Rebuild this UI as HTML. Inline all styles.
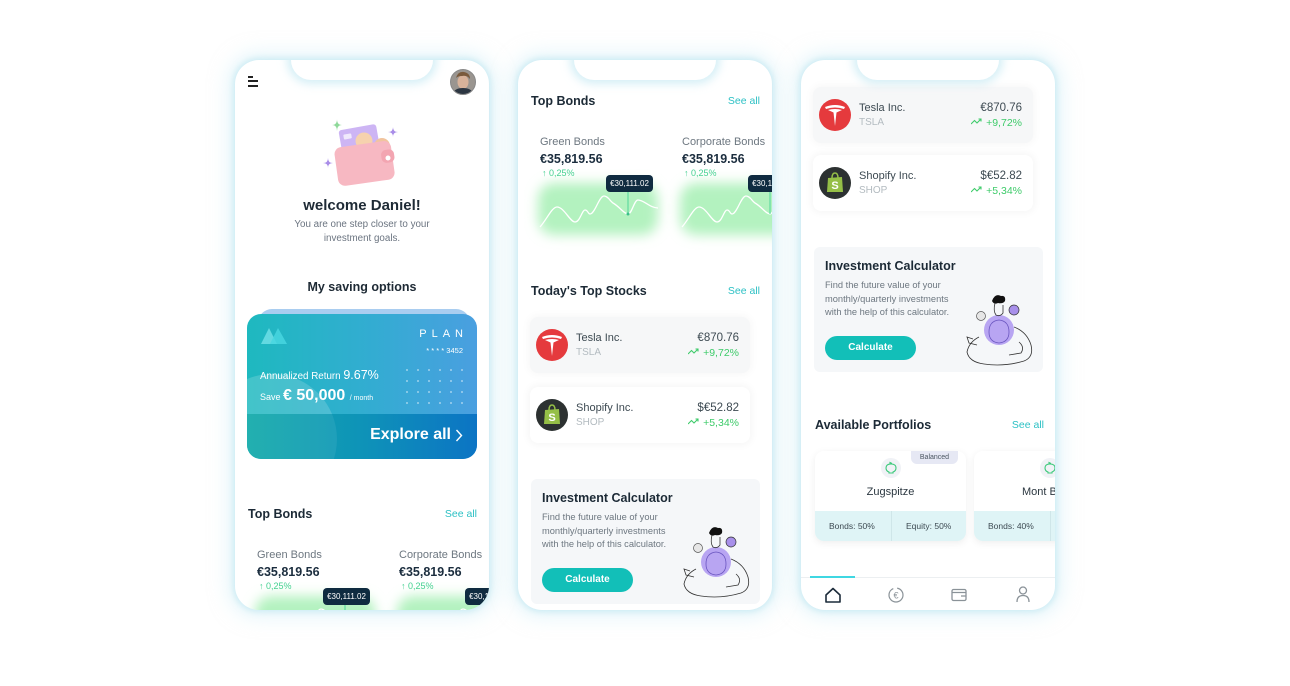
<!DOCTYPE html>
<html><head><meta charset="utf-8">
<style>
*{margin:0;padding:0;box-sizing:border-box}
body{width:1290px;height:686px;background:#fff;position:relative;overflow:hidden;font-family:"Liberation Sans",sans-serif}
.ph{position:absolute;top:60px;width:254px;height:550px;border-radius:24px;background:#fff;box-shadow:0 0 6px 2px rgba(180,226,238,.55),0 0 18px 8px rgba(210,240,247,.5);overflow:hidden}
.notch{position:absolute;top:-4px;left:56px;width:142px;height:24px;background:#fff;border-radius:0 0 20px 20px;box-shadow:0 0 9px 4px rgba(185,228,240,.6);z-index:5}
.a{position:absolute;white-space:nowrap}
.h{font-size:12.5px;font-weight:bold;color:#1c2a36;line-height:16px}
.see{font-size:10.5px;color:#2cc0c4;line-height:14px}
.bond{position:absolute;width:130px;height:110px}
.bt{position:absolute;left:0;top:0;font-size:11px;line-height:16px;color:#6d7780;white-space:nowrap}
.bp{position:absolute;left:0;top:17px;font-size:12.5px;line-height:16px;font-weight:bold;color:#1b2d3e;white-space:nowrap}
.bc{position:absolute;left:2px;top:33px;font-size:9px;line-height:12px;color:#3fcf8e;white-space:nowrap}
.bch{position:absolute;left:-16px;top:35px}
.tip{position:absolute;left:66px;top:41px;width:47px;height:17px;background:#0f2b40;border-radius:4px;color:#fff;font-size:8px;line-height:17px;text-align:center;white-space:nowrap}
.st{position:absolute;left:12px;width:220px;height:56px;border-radius:8px}
.st.g{background:#f6f7f8;box-shadow:0 0 8px 2px rgba(0,0,0,.03)}
.st.w{background:#fff;box-shadow:0 0 8px 2px rgba(0,0,0,.04)}
.st svg.lg{position:absolute;left:6px;top:12px}
.sn{position:absolute;left:46px;top:14px;font-size:11px;line-height:14px;color:#3d4a52}
.sk{position:absolute;left:46px;top:29px;font-size:10px;line-height:14px;color:#b3bbc0}
.sp{position:absolute;right:11px;top:14px;font-size:11.5px;line-height:14px;color:#3d4a52}
.sc{position:absolute;right:11px;top:29px;font-size:10.5px;line-height:14px;color:#3ecb6a}
.calc{position:absolute;left:13px;width:229px;height:125px;background:#f5f7f9;border-radius:6px}
.ct{position:absolute;left:11px;top:12px;font-size:12.5px;font-weight:bold;color:#1c2a36;white-space:nowrap}
.cx{position:absolute;left:11px;top:32px;font-size:9.3px;line-height:13.5px;color:#6d7780;white-space:nowrap}
.cb{position:absolute;left:11px;top:89px;width:91px;height:24px;border-radius:12px;background:#12bfb8;color:#fff;font-size:10px;font-weight:bold;text-align:center;line-height:24px}
.pc{position:absolute;top:391px;width:151px;height:90px;background:#fff;border-radius:9px;box-shadow:0 2px 8px rgba(0,0,0,.07);overflow:hidden}
.pb{position:absolute;left:0;bottom:0;width:100%;height:30px;background:#dff4f6}
.pb i{position:absolute;left:76px;top:0;width:1px;height:30px;background:#cfe6e9}
.pb span{position:absolute;top:0;line-height:30px;font-size:8.5px;color:#3d4a52;white-space:nowrap;font-style:normal}
.pn{position:absolute;left:0;width:100%;top:35px;text-align:center;font-size:11px;color:#2b3740}
.pig{position:absolute;left:66px;top:7px}
</style></head><body>

<svg width="0" height="0" style="position:absolute"><defs><filter id="bl1" x="-30%" y="-40%" width="160%" height="180%"><feGaussianBlur stdDeviation="6"/></filter></defs></svg>

<!-- PHONE 1 -->
<div class="ph" style="left:235px">
 <div class="notch"></div>
 <div class="a" style="left:13px;top:16px;width:5px;height:2px;background:#222"></div>
 <div class="a" style="left:13px;top:20px;width:10px;height:2px;background:#222"></div>
 <div class="a" style="left:13px;top:25px;width:10px;height:2px;background:#222"></div>
 <svg class="a" style="left:215px;top:9px" width="26" height="26" viewBox="0 0 26 26">
  <defs><clipPath id="av"><circle cx="13" cy="13" r="12.5"/></clipPath></defs>
  <g clip-path="url(#av)">
   <rect width="26" height="26" fill="#9a9590"/>
   <ellipse cx="13" cy="13" rx="5.5" ry="7" fill="#d8b29a"/>
   <path d="M6,9 Q8,2 14,3 Q20,4 20,10 Q17,6 12,7 Q8,7 6,9Z" fill="#7a5a3c"/>
   <path d="M2,26 Q4,19 13,19 Q22,19 24,26Z" fill="#2c3642"/>
  </g>
  <circle cx="13" cy="13" r="12.5" fill="none" stroke="#888" stroke-width="1"/>
 </svg>
 <svg class="a" style="left:85px;top:55px" width="90" height="75" viewBox="0 0 90 75">
  <path d="M17,4 Q17,10 22,10 Q17,10 17,16 Q17,10 12,10 Q17,10 17,4Z" fill="#8fd99a"/>
  <path d="M73,12 Q73,17 78,17 Q73,17 73,22 Q73,17 68,17 Q73,17 73,12Z" fill="#a98de8"/>
  <path d="M8,43 Q8,48 13,48 Q8,48 8,53 Q8,48 3,48 Q8,48 8,43Z" fill="#a98de8"/>
  <rect x="20" y="12" width="38" height="22" rx="3" fill="#cdb5f4" transform="rotate(-10 39 23)"/>
  <rect x="24" y="17" width="8" height="5" rx="1" fill="#fff" opacity=".7" transform="rotate(-10 39 23)"/>
  <circle cx="44" cy="26" r="8.5" fill="#f6d2ae"/>
  <circle cx="62" cy="31" r="8" fill="#f1c49e"/>
  <rect x="16" y="29" width="57" height="39" rx="7" fill="#f7b8c2" transform="rotate(-8 44 48)"/>
  <rect x="62" y="38" width="13" height="13" rx="5" fill="#f3a5b1" transform="rotate(-8 44 48)"/>
  <circle cx="68" cy="43" r="2.5" fill="#fff"/>
 </svg>
 <div class="a" style="left:0;width:254px;text-align:center;top:137px;font-size:15px;font-weight:bold;color:#1e2a35">welcome Daniel!</div>
 <div class="a" style="left:0;width:254px;text-align:center;top:158px;font-size:9.8px;line-height:14px;color:#6b7480">You are one step closer to your<br>investment goals.</div>
 <div class="a" style="left:0;width:254px;text-align:center;top:220px;font-size:12.5px;font-weight:bold;color:#1e2a35">My saving options</div>
 <div class="a" style="left:23px;top:249px;width:212px;height:40px;border-radius:14px;background:#a9cdf0"></div>
 <div class="a" style="left:12px;top:254px;width:230px;height:145px;border-radius:14px;overflow:hidden;background:linear-gradient(90deg,#1eb9bf 0%,#33acd2 55%,#4a9fe0 100%)">
  <div class="a" style="left:-40px;top:60px;width:130px;height:130px;border-radius:50%;background:rgba(255,255,255,.1)"></div>
  <svg class="a" style="left:14px;top:12px" width="28" height="18" viewBox="0 0 28 18"><path d="M0,18 L8,2 L16,18Z" fill="#6fdfe6" opacity=".85"/><path d="M9,18 L17,2 L26,18Z" fill="#48d6e0" opacity=".85"/></svg>
  <div class="a" style="right:14px;top:14px;font-size:11px;letter-spacing:5px;color:#fff;margin-right:-5px">PLAN</div>
  <div class="a" style="right:14px;top:32px;font-size:7.5px;color:#fff">* * * * 3452</div>
  <div class="a" style="left:13px;top:54px;color:#fff;font-size:9.8px">Annualized Return <span style="font-size:12.5px">9.67%</span></div>
  <div class="a" style="left:13px;top:73px;color:#fff;font-size:9px">Save <span style="font-size:16px;font-weight:bold">€ 50,000</span> <span style="font-size:7px">&nbsp;/ month</span></div>
  <svg class="a" style="left:158px;top:54px" width="60" height="38">
   <g fill="#fff" opacity=".5">
    <circle cx="2" cy="2" r="1"/><circle cx="13" cy="2" r="1"/><circle cx="24" cy="2" r="1"/><circle cx="35" cy="2" r="1"/><circle cx="46" cy="2" r="1"/><circle cx="57" cy="2" r="1"/>
    <circle cx="2" cy="13" r="1"/><circle cx="13" cy="13" r="1"/><circle cx="24" cy="13" r="1"/><circle cx="35" cy="13" r="1"/><circle cx="46" cy="13" r="1"/><circle cx="57" cy="13" r="1"/>
    <circle cx="2" cy="24" r="1"/><circle cx="13" cy="24" r="1"/><circle cx="24" cy="24" r="1"/><circle cx="35" cy="24" r="1"/><circle cx="46" cy="24" r="1"/><circle cx="57" cy="24" r="1"/>
    <circle cx="2" cy="35" r="1"/><circle cx="13" cy="35" r="1"/><circle cx="24" cy="35" r="1"/><circle cx="35" cy="35" r="1"/><circle cx="46" cy="35" r="1"/><circle cx="57" cy="35" r="1"/>
   </g>
  </svg>
  <div class="a" style="left:0;top:100px;width:230px;height:45px;background:linear-gradient(90deg,#12aaaa 0%,#0e93b8 50%,#0c74c4 100%)"></div>
  <div class="a" style="left:-40px;top:60px;width:130px;height:130px;border-radius:50%;background:rgba(255,255,255,.07)"></div>
  <div class="a" style="right:26px;top:112px;color:#fff;font-size:16px;font-weight:bold">Explore all</div>
  <svg class="a" style="left:208px;top:115px" width="8" height="13"><path d="M1.5,1 L6.5,6.5 L1.5,12" stroke="#fff" stroke-width="1.4" fill="none"/></svg>
 </div>
 <div class="a h" style="left:13px;top:446px">Top Bonds</div>
 <div class="a see" style="right:12px;top:447px">See all</div>
 <div class="bond" style="left:22px;top:487px">
  <div class="bt">Green Bonds</div><div class="bp">€35,819.56</div><div class="bc">↑ 0,25%</div>
  <svg class="bch" width="150" height="82" viewBox="0 0 150 82"><rect x="14" y="14" width="120" height="52" rx="16" fill="#b3f2bf" filter="url(#bl1)"/><g transform="translate(8,8)"><path d="M8,50 C15,42 20,30 25,30 C32,30 38,45 43,45 C48,45 50,33 53,33 C56,33 56,37 58,37 C63,37 67,19 72,19 C76,19 78,24 81,26 C88,30 92,37 96,37 C100,37 102,23 106,23 C112,23 118,31 126,31" stroke="#fff" stroke-width="1.3" fill="none"/><line x1="96" y1="15" x2="96" y2="37" stroke="#4fd69a" stroke-width="1"/><circle cx="96" cy="37" r="1.5" fill="#3cbf8a"/></g></svg>
  <div class="tip">€30,111.02</div>
 </div>
 <div class="bond" style="left:164px;top:487px">
  <div class="bt">Corporate Bonds</div><div class="bp">€35,819.56</div><div class="bc">↑ 0,25%</div>
  <svg class="bch" width="150" height="82" viewBox="0 0 150 82"><rect x="14" y="14" width="120" height="52" rx="16" fill="#b3f2bf" filter="url(#bl1)"/><g transform="translate(8,8)"><path d="M8,50 C15,42 20,30 25,30 C32,30 38,45 43,45 C48,45 50,33 53,33 C56,33 56,37 58,37 C63,37 67,19 72,19 C76,19 78,24 81,26 C88,30 92,37 96,37 C100,37 102,23 106,23 C112,23 118,31 126,31" stroke="#fff" stroke-width="1.3" fill="none"/><line x1="96" y1="15" x2="96" y2="37" stroke="#4fd69a" stroke-width="1"/></g></svg>
  <div class="tip">€30,111.02</div>
 </div>
</div>

<!-- PHONE 2 -->
<div class="ph" style="left:518px">
 <div class="notch"></div>
 <div class="a h" style="left:13px;top:33px">Top Bonds</div>
 <div class="a see" style="right:12px;top:34px">See all</div>
 <div class="bond" style="left:22px;top:74px">
  <div class="bt">Green Bonds</div><div class="bp">€35,819.56</div><div class="bc">↑ 0,25%</div>
  <svg class="bch" width="150" height="82" viewBox="0 0 150 82"><rect x="14" y="14" width="120" height="52" rx="16" fill="#b3f2bf" filter="url(#bl1)"/><g transform="translate(8,8)"><path d="M8,50 C15,42 20,30 25,30 C32,30 38,45 43,45 C48,45 50,33 53,33 C56,33 56,37 58,37 C63,37 67,19 72,19 C76,19 78,24 81,26 C88,30 92,37 96,37 C100,37 102,23 106,23 C112,23 118,31 126,31" stroke="#fff" stroke-width="1.3" fill="none"/><line x1="96" y1="15" x2="96" y2="37" stroke="#4fd69a" stroke-width="1"/><circle cx="96" cy="37" r="1.5" fill="#3cbf8a"/></g></svg>
  <div class="tip">€30,111.02</div>
 </div>
 <div class="bond" style="left:164px;top:74px">
  <div class="bt">Corporate Bonds</div><div class="bp">€35,819.56</div><div class="bc">↑ 0,25%</div>
  <svg class="bch" width="150" height="82" viewBox="0 0 150 82"><rect x="14" y="14" width="120" height="52" rx="16" fill="#b3f2bf" filter="url(#bl1)"/><g transform="translate(8,8)"><path d="M8,50 C15,42 20,30 25,30 C32,30 38,45 43,45 C48,45 50,33 53,33 C56,33 56,37 58,37 C63,37 67,19 72,19 C76,19 78,24 81,26 C88,30 92,37 96,37 C100,37 102,23 106,23 C112,23 118,31 126,31" stroke="#fff" stroke-width="1.3" fill="none"/><line x1="96" y1="15" x2="96" y2="37" stroke="#4fd69a" stroke-width="1"/></g></svg>
  <div class="tip">€30,111.02</div>
 </div>
 <div class="a h" style="left:13px;top:223px">Today's Top Stocks</div>
 <div class="a see" style="right:12px;top:224px">See all</div>

 <div class="st g" style="top:257px">
  <svg class="lg" width="32" height="32" viewBox="-16 -16 32 32"><circle r="16" fill="#e53a3d"/><path d="M-10,-8 Q0,-12 10,-8 L9,-6 Q0,-9 -9,-6Z" fill="#fff"/><path d="M-7,-5 Q0,-7 7,-5 L1.5,-2.5 L0,11 L-1.5,-2.5Z" fill="#fff"/></svg>
  <div class="sn">Tesla Inc.</div><div class="sk">TSLA</div>
  <div class="sp">€870.76</div>
  <div class="sc"><svg width="12" height="7" viewBox="0 0 12 7" style="vertical-align:1px"><path d="M0,6 L3.5,2.5 L6,5 L10,1 M7.5,1 H10 V3.5" stroke="#3ecb6a" stroke-width="1.1" fill="none"/></svg> +9,72%</div>
 </div>
 <div class="st w" style="top:327px">
  <svg class="lg" width="32" height="32" viewBox="-16 -16 32 32"><circle r="16" fill="#2c3131"/><path d="M-7,-5 L7,-6 L8,9 L-8,9Z" fill="#95bf47"/><path d="M-3,-5 Q-3,-10 0,-10 Q3,-10 3,-5" stroke="#95bf47" stroke-width="1.5" fill="none"/><text x="0" y="6" font-size="11" font-weight="bold" fill="#fff" text-anchor="middle" font-family="Liberation Sans">S</text></svg>
  <div class="sn">Shopify Inc.</div><div class="sk">SHOP</div>
  <div class="sp">$€52.82</div>
  <div class="sc"><svg width="12" height="7" viewBox="0 0 12 7" style="vertical-align:1px"><path d="M0,6 L3.5,2.5 L6,5 L10,1 M7.5,1 H10 V3.5" stroke="#3ecb6a" stroke-width="1.1" fill="none"/></svg> +5,34%</div>
 </div>

 <div class="calc" style="top:419px">
  <div class="ct">Investment Calculator</div>
  <div class="cx">Find the future value of your<br>monthly/quarterly investments<br>with the help of this calculator.</div>
  <div class="cb">Calculate</div>
  <svg class="a" style="left:145px;top:40px" width="80" height="80" viewBox="0 0 80 80">
   <circle cx="40" cy="43" r="15" fill="#b8a5f2"/>
   <path d="M30,45 Q30,34 40,33 Q50,34 50,45 Q50,55 40,56 Q30,55 30,45Z" fill="none" stroke="#6a55c0" stroke-width=".8"/>
   <path d="M33,14 Q36,6 42,9 Q47,8 46,14 Q44,17 39,16 Q35,18 33,14Z" fill="#111"/>
   <path d="M36,16 Q34,24 37,28 Q41,30 44,26 L44,18" fill="none" stroke="#333" stroke-width=".8"/>
   <circle cx="55" cy="23" r="5" fill="#a890ea" stroke="#333" stroke-width=".7"/>
   <circle cx="22" cy="29" r="4.5" fill="#e6e6e6" stroke="#555" stroke-width=".7"/>
   <path d="M20,50 Q10,55 8,65 Q10,75 25,77 Q45,80 65,74 Q75,70 72,58 Q68,45 55,40" fill="none" stroke="#333" stroke-width=".8"/>
   <path d="M14,52 L8,50 L10,56 L18,58 M60,55 Q66,60 62,66 L50,68" fill="none" stroke="#333" stroke-width=".8"/>
  </svg>
 </div>
</div>

<!-- PHONE 3 -->
<div class="ph" style="left:801px">
 <div class="notch"></div>
 <div class="st g" style="top:27px">
  <svg class="lg" width="32" height="32" viewBox="-16 -16 32 32"><circle r="16" fill="#e53a3d"/><path d="M-10,-8 Q0,-12 10,-8 L9,-6 Q0,-9 -9,-6Z" fill="#fff"/><path d="M-7,-5 Q0,-7 7,-5 L1.5,-2.5 L0,11 L-1.5,-2.5Z" fill="#fff"/></svg>
  <div class="sn">Tesla Inc.</div><div class="sk">TSLA</div>
  <div class="sp">€870.76</div>
  <div class="sc"><svg width="12" height="7" viewBox="0 0 12 7" style="vertical-align:1px"><path d="M0,6 L3.5,2.5 L6,5 L10,1 M7.5,1 H10 V3.5" stroke="#3ecb6a" stroke-width="1.1" fill="none"/></svg> +9,72%</div>
 </div>
 <div class="st w" style="top:95px">
  <svg class="lg" width="32" height="32" viewBox="-16 -16 32 32"><circle r="16" fill="#2c3131"/><path d="M-7,-5 L7,-6 L8,9 L-8,9Z" fill="#95bf47"/><path d="M-3,-5 Q-3,-10 0,-10 Q3,-10 3,-5" stroke="#95bf47" stroke-width="1.5" fill="none"/><text x="0" y="6" font-size="11" font-weight="bold" fill="#fff" text-anchor="middle" font-family="Liberation Sans">S</text></svg>
  <div class="sn">Shopify Inc.</div><div class="sk">SHOP</div>
  <div class="sp">$€52.82</div>
  <div class="sc"><svg width="12" height="7" viewBox="0 0 12 7" style="vertical-align:1px"><path d="M0,6 L3.5,2.5 L6,5 L10,1 M7.5,1 H10 V3.5" stroke="#3ecb6a" stroke-width="1.1" fill="none"/></svg> +5,34%</div>
 </div>
 <div class="calc" style="top:187px">
  <div class="ct">Investment Calculator</div>
  <div class="cx">Find the future value of your<br>monthly/quarterly investments<br>with the help of this calculator.</div>
  <div class="cb">Calculate</div>
  <svg class="a" style="left:145px;top:40px" width="80" height="80" viewBox="0 0 80 80">
   <circle cx="40" cy="43" r="15" fill="#b8a5f2"/>
   <path d="M30,45 Q30,34 40,33 Q50,34 50,45 Q50,55 40,56 Q30,55 30,45Z" fill="none" stroke="#6a55c0" stroke-width=".8"/>
   <path d="M33,14 Q36,6 42,9 Q47,8 46,14 Q44,17 39,16 Q35,18 33,14Z" fill="#111"/>
   <path d="M36,16 Q34,24 37,28 Q41,30 44,26 L44,18" fill="none" stroke="#333" stroke-width=".8"/>
   <circle cx="55" cy="23" r="5" fill="#a890ea" stroke="#333" stroke-width=".7"/>
   <circle cx="22" cy="29" r="4.5" fill="#e6e6e6" stroke="#555" stroke-width=".7"/>
   <path d="M20,50 Q10,55 8,65 Q10,75 25,77 Q45,80 65,74 Q75,70 72,58 Q68,45 55,40" fill="none" stroke="#333" stroke-width=".8"/>
   <path d="M14,52 L8,50 L10,56 L18,58 M60,55 Q66,60 62,66 L50,68" fill="none" stroke="#333" stroke-width=".8"/>
  </svg>
 </div>
 <div class="a h" style="left:14px;top:357px">Available Portfolios</div>
 <div class="a see" style="right:11px;top:358px">See all</div>

 <div class="pc" style="left:14px">
  <div class="a" style="left:96px;top:0;width:47px;height:13px;background:#e6e8f4;border-radius:0 0 6px 6px;font-size:7px;line-height:13px;text-align:center;color:#4a5560">Balanced</div>
  <svg class="pig" width="20" height="20" viewBox="0 0 20 20"><circle cx="10" cy="10" r="10" fill="#f0f2f6"/><path d="M5,10 Q5,6 10,6 Q15,6 15,10 Q15,13 12,14 L12,15 L8,15 L8,14 Q5,13 5,10Z M9,6 L9,4.5 L11,5.5" fill="none" stroke="#3cc97a" stroke-width="1.1"/></svg>
  <div class="pn">Zugspitze</div>
  <div class="pb"><i></i><span style="left:14px">Bonds: 50%</span><span style="left:91px">Equity: 50%</span></div>
 </div>
 <div class="pc" style="left:173px">
  <svg class="pig" width="20" height="20" viewBox="0 0 20 20"><circle cx="10" cy="10" r="10" fill="#f0f2f6"/><path d="M5,10 Q5,6 10,6 Q15,6 15,10 Q15,13 12,14 L12,15 L8,15 L8,14 Q5,13 5,10Z M9,6 L9,4.5 L11,5.5" fill="none" stroke="#3cc97a" stroke-width="1.1"/></svg>
  <div class="pn">Mont Blanc</div>
  <div class="pb"><i></i><span style="left:14px">Bonds: 40%</span><span style="left:91px">Equity: 60%</span></div>
 </div>

 <div class="a" style="left:0;top:517px;width:254px;height:1px;background:#eceff1"></div>
 <div class="a" style="left:9px;top:516px;width:45px;height:2px;background:#3fd7e2"></div>
 <svg class="a" style="left:0;top:520px" width="254" height="30">
  <path d="M25,15 L32,8.5 L39,15 V22 H25Z" fill="none" stroke="#1c2b3a" stroke-width="1.6" stroke-linejoin="round"/>
  <circle cx="95" cy="15" r="7" fill="none" stroke="#8a9298" stroke-width="1.2" stroke-dasharray="30 4"/>
  <text x="95" y="18.5" font-size="9" fill="#8a9298" text-anchor="middle" font-family="Liberation Sans">€</text>
  <rect x="151" y="9.5" width="14" height="11" rx="1.5" fill="none" stroke="#8a9298" stroke-width="1.3"/>
  <path d="M151,12.5 H165 M160,16 H165" stroke="#8a9298" stroke-width="1.2"/>
  <circle cx="222" cy="10.5" r="3.5" fill="none" stroke="#8a9298" stroke-width="1.3"/>
  <path d="M216,22 Q216,15.5 222,15.5 Q228,15.5 228,22" fill="none" stroke="#8a9298" stroke-width="1.3"/>
 </svg>
</div>
</body></html>
